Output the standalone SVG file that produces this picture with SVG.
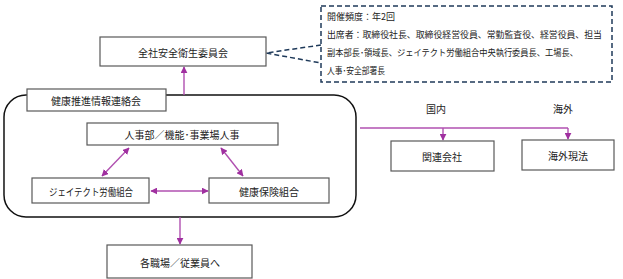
<svg xmlns="http://www.w3.org/2000/svg" width="623" height="279" viewBox="0 0 623 279">
<style>
.box{fill:#fff;stroke:#595959;stroke-width:1.2}
.t{font-family:"Noto Sans CJK JP","Noto Sans CJK SC",sans-serif;font-size:10px;fill:#222;text-anchor:middle;dominant-baseline:central}
.n{font-family:"Noto Sans CJK JP","Noto Sans CJK SC",sans-serif;font-size:9px;fill:#222;dominant-baseline:central}
.c{stroke:#b050b0;stroke-width:1.4;fill:none}
.d{stroke:#1f3a5a;stroke-width:1.5;fill:none;stroke-dasharray:5,3}
</style>
<defs>
<marker id="ah" viewBox="0 0 10 10" refX="9" refY="5" markerWidth="5" markerHeight="5" orient="auto-start-reverse">
<path d="M0,0 L10,5 L0,10 z" fill="#a030a0"/>
</marker>
</defs>
<g id="frame">
<rect x="4" y="95" width="352" height="122" rx="22" ry="22" fill="none" stroke="#111" stroke-width="1.5"/>
</g>
<g id="connectors">
<line class="c" x1="184" y1="95" x2="184" y2="67" marker-end="url(#ah)"/>
<line class="c" x1="129" y1="148" x2="102" y2="176" marker-start="url(#ah)" marker-end="url(#ah)"/>
<line class="c" x1="221" y1="148" x2="243" y2="176" marker-start="url(#ah)" marker-end="url(#ah)"/>
<line class="c" x1="151" y1="191" x2="208" y2="191" marker-start="url(#ah)" marker-end="url(#ah)"/>
<line class="c" x1="180" y1="217" x2="180" y2="244" marker-end="url(#ah)"/>
<line class="c" x1="360" y1="128" x2="568" y2="128"/>
<line class="c" x1="443" y1="128" x2="443" y2="140" marker-end="url(#ah)"/>
<line class="c" x1="568" y1="128" x2="568" y2="139" marker-end="url(#ah)"/>
<polyline class="d" points="321,45 266,53 321,63"/>
</g>
<g id="n-zensha">
<rect class="box" x="100" y="37" width="166" height="29"/>
<text class="t" x="183" y="52">全社安全衛生委員会</text>
</g>
<g id="n-note">
<rect x="321" y="6" width="291" height="76" fill="#fff" class="d"/>
<text class="n" x="327" y="16">開催頻度：年2回</text>
<text class="n" x="327" y="34" textLength="275" lengthAdjust="spacingAndGlyphs">出席者：取締役社長、取締役経営役員、常勤監査役、経営役員、担当</text>
<text class="n" x="327" y="52" textLength="251" lengthAdjust="spacingAndGlyphs">副本部長･領域長、ジェイテクト労働組合中央執行委員長、工場長、</text>
<text class="n" x="327" y="70" textLength="58" lengthAdjust="spacingAndGlyphs">人事･安全部署長</text>
</g>
<g id="n-kenko-label">
<rect class="box" x="27" y="89" width="139" height="22"/>
<text class="t" x="96" y="100">健康推進情報連絡会</text>
</g>
<g id="n-jinji">
<rect class="box" x="87" y="123" width="191" height="22"/>
<text class="t" x="182" y="134">人事部／機能･事業場人事</text>
</g>
<g id="n-union">
<rect class="box" x="32" y="178" width="117" height="25"/>
<text class="t" x="91" y="191" textLength="84" lengthAdjust="spacingAndGlyphs">ジェイテクト労働組合</text>
</g>
<g id="n-hoken">
<rect class="box" x="209" y="178" width="120" height="25"/>
<text class="t" x="269" y="191">健康保険組合</text>
</g>
<g id="n-shokuba">
<rect class="box" x="107" y="245" width="145" height="33"/>
<text class="t" x="180" y="262">各職場／従業員へ</text>
</g>
<text class="t" x="436" y="108">国内</text>
<text class="t" x="563" y="108">海外</text>
<g id="n-kanren">
<rect class="box" x="391" y="141" width="103" height="30"/>
<text class="t" x="442" y="156">関連会社</text>
</g>
<g id="n-kaigai">
<rect class="box" x="522" y="140" width="92" height="30"/>
<text class="t" x="568" y="155">海外現法</text>
</g>
</svg>
